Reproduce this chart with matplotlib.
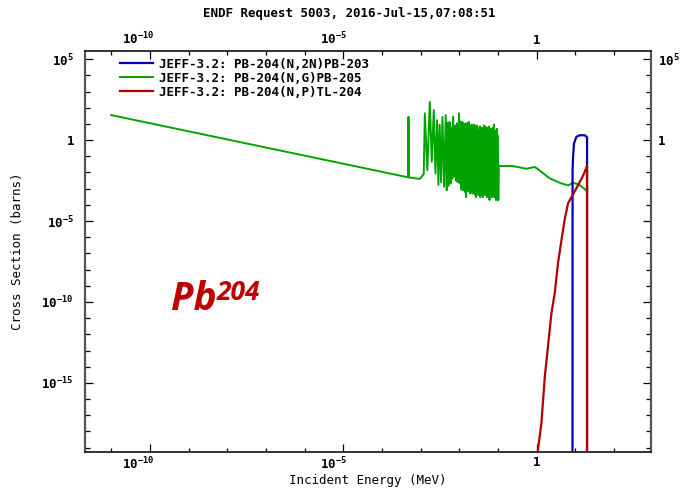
import numpy as np
import matplotlib.pyplot as plt
from matplotlib.ticker import LogLocator, NullFormatter
from matplotlib.transforms import ScaledTranslation

# ---- data (energies in MeV, cross sections in barns) ----
# (n,2n) -> Pb-203, threshold reaction
n2n_E = [8.39, 8.45, 8.7, 9.2, 10.6, 12.9, 17.4, 19.5, 20.0, 20.0]
n2n_xs = [1e-30, 0.014, 0.093, 0.62, 1.6, 2.0, 2.0, 1.6, 1.5, 1e-30]

# (n,p) -> Tl-204
np_E = [1.05, 1.08, 1.32, 1.62, 1.95, 2.40, 2.92, 3.55, 4.37, 5.25, 6.46,
        8.7, 12.9, 16.5, 20.0, 20.0]
np_xs = [1e-30, 8e-20, 3.2e-18, 2.5e-15, 1.7e-13, 2e-11, 3.5e-10, 2.5e-8,
         6.8e-7, 1.15e-5, 1.26e-4, 4.5e-4, 2.5e-3, 8e-3, 0.026, 1e-30]

# (n,g) -> Pb-205, 1/v region and first isolated resonance
ng_low_E = [1e-11, 4.80e-4, 4.84e-4, 4.88e-4, 9.5e-4, 1.2e-3]
ng_low_xs = [35, 0.0050, 27, 0.0050, 0.0040, 0.008]

# resolved resonances: peak energy (keV), peak value, valley after the peak
res_E_keV = [1.28, 1.72, 2.18, 2.66, 3.10, 3.66, 4.45, 5.0, 5.65, 6.2, 6.9, 7.8,
             8.7, 9.8, 10.8, 11.4, 12.0, 12.6, 13.2, 13.9, 14.6, 15.3, 16.0, 16.9,
             17.8, 18.7, 19.6, 20.7, 21.8, 22.8, 23.8, 25.1, 26.5, 27.7, 29.0, 30.6,
             32.3, 33.9, 35.5, 37.5, 39.5, 41.5, 43.5, 45.7, 48.0, 50.5, 53.0, 55.8,
             58.6, 61.5, 64.5, 68.0, 71.6, 75.0, 78.5, 82.5, 87.0, 90.0, 93.0, 97.0,
             100.0]
res_peak = [45, 230, 71, 17, 9, 27, 35, 12, 13, 6, 27, 8,
            11, 45, 14, 7, 13, 9, 6, 10, 11, 5, 8, 12,
            13, 7, 5, 9, 6.6, 4, 9, 6, 5.3, 8, 7, 4,
            4.1, 7, 6, 3.5, 5.3, 6, 8, 4, 6.6, 5, 4, 6,
            6.6, 3.5, 5, 4.5, 4.1, 6, 9, 3, 2.6, 4, 5, 2, 0.8]
res_dip = [0.014, 0.046, 0.0087, 0.0017, 0.0025, 0.0013, 0.0008, 0.0015, 0.0021, 0.004,
           0.0055, 0.003, 0.0025, 0.0021, 0.0009, 0.0015, 0.0008, 0.0012, 0.0012, 0.0006,
           0.0003, 0.0009, 0.0007, 0.0011, 0.0008, 0.0005, 0.0006, 0.0010, 0.0005, 0.0008,
           0.0009, 0.0004, 0.0003, 0.0007, 0.0006, 0.0004, 0.0008, 0.0003, 0.0004, 0.0006,
           0.0003, 0.0005, 0.0007, 0.0004, 0.0008, 0.0003, 0.0004, 0.0006, 0.0002, 0.0005,
           0.0006, 0.0003, 0.0005, 0.0004, 0.0003, 0.0005, 0.0002, 0.0004, 0.0003, 0.0002,
           0.0002]

# smooth unresolved / fast region
ng_high_E = [0.104, 0.244, 0.54, 0.89, 1.32, 2.17, 4.37, 6.5, 8.7, 12.3, 19.0, 20.0]
ng_high_xs = [0.025, 0.025, 0.017, 0.022, 0.011, 0.0043, 0.0021, 0.0016, 0.0023,
              0.0018, 0.0008, 0.0007]

labels = ['JEFF-3.2: PB-204(N,2N)PB-203',
          'JEFF-3.2: PB-204(N,G)PB-205',
          'JEFF-3.2: PB-204(N,P)TL-204']
colors = ['#0000b4', '#00a400', '#b00000']

# stitch the capture curve: peaks followed by their valleys
res_E = np.array(res_E_keV) * 1e-3
forest_E, forest_xs = [], []
for i, e in enumerate(res_E):
    nxt = res_E[i + 1] if i + 1 < len(res_E) else e * 1.03
    forest_E += [e, np.sqrt(e * nxt)]
    forest_xs += [res_peak[i], res_dip[i]]
ng_E = ng_low_E + forest_E + ng_high_E
ng_xs = ng_low_xs + forest_xs + ng_high_xs

plt.rcParams['font.family'] = 'DejaVu Sans Mono'
plt.rcParams['font.weight'] = 'bold'
plt.rcParams['font.size'] = 9
plt.rcParams['mathtext.fontset'] = 'custom'
plt.rcParams['mathtext.rm'] = 'DejaVu Sans Mono:bold'
plt.rcParams['mathtext.it'] = 'DejaVu Sans Mono:bold'
plt.rcParams['mathtext.bf'] = 'DejaVu Sans Mono:bold'

fig = plt.figure(figsize=(6.98, 4.88), dpi=100)
ax = fig.add_axes([85 / 698, 1 - 452 / 488, 566 / 698, 401 / 488])

ax.plot(n2n_E, n2n_xs, color=colors[0], lw=1.6, label=labels[0], zorder=3)
ax.plot(ng_E, ng_xs, color=colors[1], lw=1.4, label=labels[1], zorder=2)
ax.plot(np_E, np_xs, color=colors[2], lw=1.6, label=labels[2], zorder=4)

ax.set_xscale('log')
ax.set_yscale('log')
ax.set_xlim(2.1e-12, 9e2)
ax.set_ylim(5.4e-20, 3.2e5)

xt = [1e-10, 1e-5, 1]
xt_lab = [r'$10^{-10}$', r'$10^{-5}$', '1']
yt = [1e5, 1, 1e-5, 1e-10, 1e-15]
yt_lab = [r'$10^{5}$', '1', r'$10^{-5}$', r'$10^{-10}$', r'$10^{-15}$']

ax.set_xticks(xt, xt_lab)
ax.set_yticks(yt, yt_lab)
for a in (ax.xaxis, ax.yaxis):
    a.set_minor_locator(LogLocator(base=10, subs=(1.0,), numticks=60))
    a.set_minor_formatter(NullFormatter())
ax.tick_params(which='both', direction='in', top=True, right=True, width=0.9)
ax.tick_params(axis='x', which='major', length=6, pad=3)
ax.tick_params(axis='x', which='minor', length=3)
ax.tick_params(axis='y', which='major', length=6, pad=8)
ax.tick_params(axis='y', which='minor', length=3.5)

# labelled ticks on the top and right sides
top = ax.secondary_xaxis('top')
top.set_xticks(xt, xt_lab)
top.tick_params(length=0, pad=3)
right = ax.secondary_yaxis('right')
right.set_yticks([1e5, 1], [r'$10^{5}$', '1'])
right.tick_params(length=0, pad=5)
for s in top.spines.values():
    s.set_visible(False)
for s in right.spines.values():
    s.set_visible(False)

# exponent labels sit to the left of their tick
shift = ScaledTranslation(3 / 72, 0, fig.dpi_scale_trans)
for lab_list in (ax.get_xticklabels(), top.get_xticklabels()):
    for t in lab_list:
        if t.get_text() != '1':
            t.set_ha('right')
            t.set_transform(t.get_transform() + shift)

for side in ('left', 'right'):
    ax.spines[side].set_color('#555555')
    ax.spines[side].set_linewidth(1.6)
for side in ('top', 'bottom'):
    ax.spines[side].set_color('#222222')
    ax.spines[side].set_linewidth(1.3)

ax.set_xlabel('Incident Energy (MeV)')
ax.xaxis.set_label_coords(0.5, -0.056)
ax.set_ylabel('Cross Section (barns)')
ax.yaxis.set_label_coords(-0.108, 0.5)
fig.text(0.5, 0.972, 'ENDF Request 5003, 2016-Jul-15,07:08:51', ha='center', va='center')

leg = ax.legend(loc='upper left', bbox_to_anchor=(0.047, 1.005), frameon=False,
                handlelength=2.6, handletextpad=0.5, labelspacing=0.08,
                borderaxespad=0.3)

pb = ax.text(0.152, 0.355, 'Pb', transform=ax.transAxes, color='#c00000',
             family='Open Sans', weight='bold', style='italic', fontsize=28)
ax.annotate('204', xy=(1.0, 0.33), xycoords=pb, color='#c00000', va='bottom',
            ha='left', family='Open Sans', weight='bold', style='italic', fontsize=19)

fig.savefig('out.png', dpi=100)
